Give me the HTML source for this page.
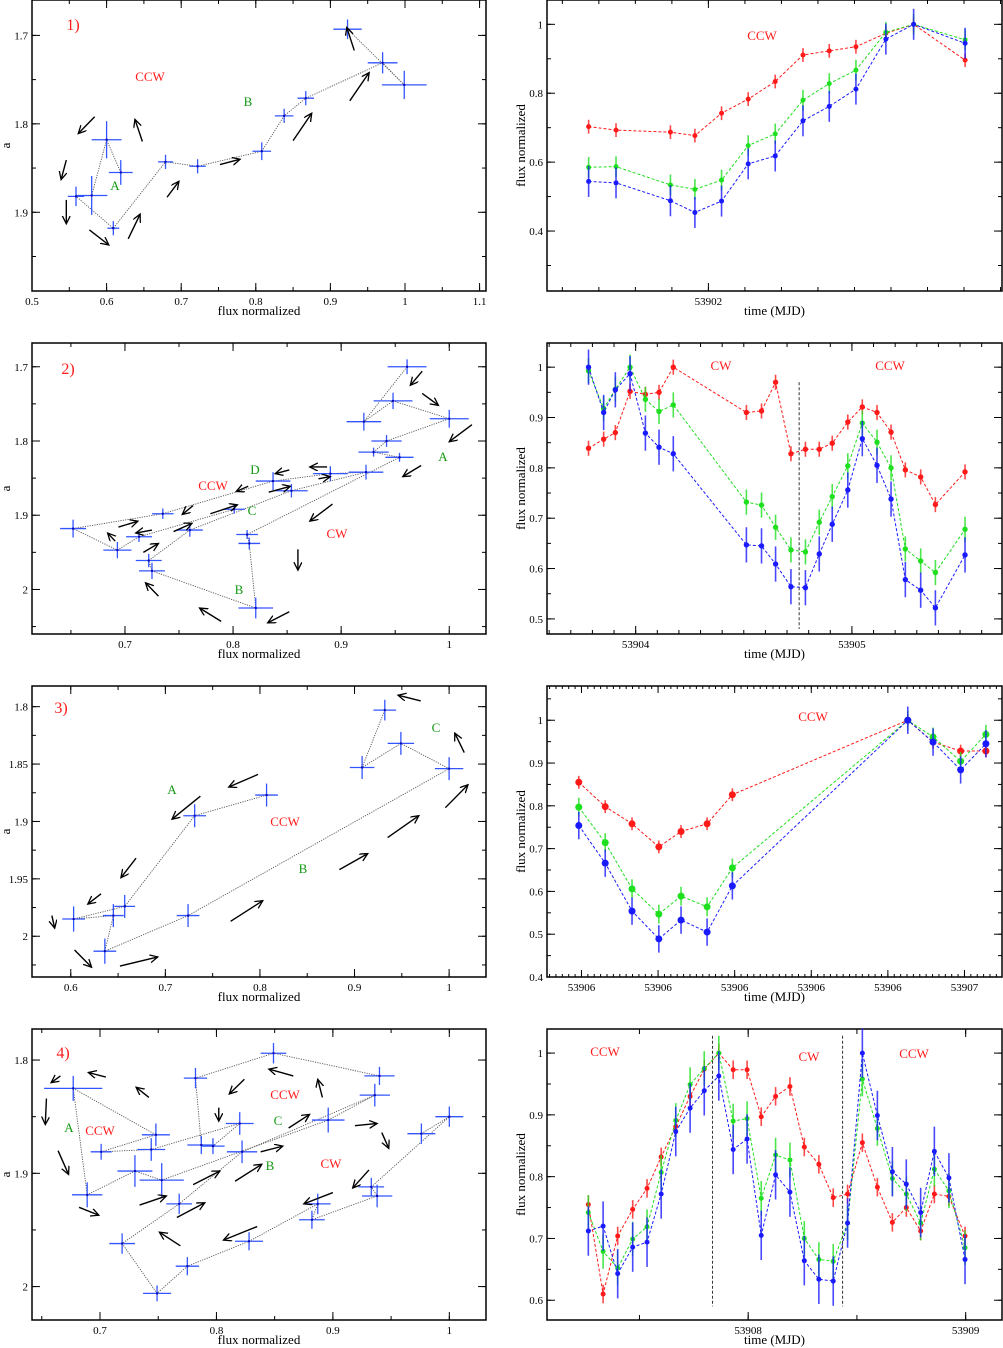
<!DOCTYPE html>
<html><head><meta charset="utf-8"><style>
body{margin:0;background:#fff}
svg{display:block;font-family:"Liberation Serif",serif}
</style></head><body>
<svg id="fig" width="1003" height="1348" viewBox="0 0 1003 1348" xmlns="http://www.w3.org/2000/svg">
<defs><marker id="ah" markerWidth="10" markerHeight="10" refX="8" refY="4" orient="auto" markerUnits="userSpaceOnUse"><polyline points="0,0 8,4 0,8" fill="none" stroke="#000" stroke-width="1.3"/></marker></defs>
</svg>
<script>
// ---------- Panel 1 ----------
const p1Flux=[0.619,0.600,0.580,0.559,0.609,0.679,0.722,0.808,0.838,0.867,0.970,0.999,0.923];
const p1A=[1.855,1.818,1.881,1.882,1.918,1.843,1.848,1.831,1.791,1.771,1.731,1.756,1.693];
const p1Xe=[0.016,0.02,0.021,0.011,0.008,0.01,0.011,0.0125,0.0125,0.011,0.02,0.03,0.019];
const p1Ye=[0.014,0.021,0.022,0.011,0.008,0.008,0.008,0.01,0.008,0.008,0.012,0.016,0.011];
const p1Arrows=[[0.584,1.792,0.562,1.811],[0.546,1.841,0.539,1.863],[0.546,1.886,0.546,1.913],[0.577,1.920,0.603,1.937],[0.629,1.930,0.645,1.902],[0.648,1.820,0.638,1.795],[0.681,1.883,0.697,1.865],[0.752,1.846,0.779,1.840],[0.850,1.819,0.875,1.788],[0.926,1.774,0.952,1.742],[0.932,1.717,0.922,1.691]];
const p1T=[-0.328,-0.253,-0.104,-0.037,0.036,0.109,0.183,0.259,0.331,0.404,0.486,0.562,0.703];
const p1Red=[0.703,0.693,0.687,0.677,0.742,0.783,0.834,0.911,0.923,0.935,0.974,1.0,0.896];
const p1Green=[0.585,0.587,0.534,0.521,0.548,0.648,0.682,0.780,0.828,0.867,0.977,1.0,0.955];
const p1Blue=[0.544,0.540,0.488,0.454,0.487,0.595,0.618,0.720,0.762,0.812,0.957,1.0,0.945];
// ---------- Panel 2 ----------
const p2Flux=[0.961,0.921,0.948,1.000,0.942,0.930,0.954,0.813,0.815,0.821,0.725,0.722,0.760,0.854,0.923,0.890,0.837,0.735,0.652,0.693,0.713,0.801];
const p2A=[1.700,1.774,1.746,1.770,1.800,1.815,1.822,1.926,1.938,2.025,1.975,1.961,1.920,1.867,1.842,1.844,1.854,1.898,1.918,1.947,1.929,1.892];
const p2Xe=[0.018,0.016,0.018,0.018,0.014,0.014,0.013,0.01,0.01,0.016,0.012,0.012,0.012,0.015,0.016,0.016,0.016,0.01,0.012,0.013,0.012,0.01];
const p2Ye=[0.01,0.012,0.011,0.012,0.008,0.006,0.006,0.006,0.008,0.014,0.011,0.009,0.009,0.009,0.01,0.01,0.012,0.007,0.012,0.011,0.007,0.006];
const p2Arrows=[[0.975,1.706,0.964,1.725],[0.975,1.736,0.990,1.752],[1.021,1.778,1.000,1.801],[0.974,1.833,0.957,1.848],[0.887,1.835,0.871,1.835],[0.852,1.839,0.839,1.844],[0.833,1.869,0.853,1.861],[0.879,1.851,0.890,1.848],[0.814,1.861,0.803,1.868],[0.763,1.887,0.753,1.899],[0.779,1.898,0.804,1.886],[0.892,1.885,0.871,1.908],[0.860,1.946,0.860,1.974],[0.694,1.916,0.712,1.908],[0.725,1.920,0.710,1.924],[0.691,1.935,0.684,1.924],[0.717,1.950,0.731,1.938],[0.745,1.922,0.762,1.911],[0.731,2.009,0.719,1.991],[0.789,2.043,0.769,2.025],[0.852,2.030,0.832,2.045]];
const p2T=[-0.218,-0.148,-0.094,-0.026,0.045,0.108,0.174,0.512,0.582,0.647,0.718,0.785,0.849,0.909,0.981,1.048,1.116,1.181,1.247,1.318,1.386,1.523];
const p2Red=[0.839,0.857,0.870,0.952,0.946,0.950,1.0,0.910,0.913,0.970,0.828,0.837,0.837,0.849,0.891,0.921,0.910,0.871,0.796,0.782,0.727,0.792];
const p2Green=[0.993,0.918,0.956,1.0,0.936,0.912,0.925,0.732,0.726,0.682,0.637,0.633,0.692,0.743,0.804,0.889,0.851,0.800,0.639,0.615,0.592,0.678];
const p2Blue=[1.0,0.910,0.955,0.987,0.869,0.841,0.828,0.647,0.645,0.609,0.564,0.562,0.629,0.688,0.756,0.858,0.805,0.738,0.578,0.557,0.522,0.627];
const p2VLines=[53904.756];
// ---------- Panel 3 ----------
const p3Flux=[0.807,0.731,0.657,0.603,0.645,0.636,0.724,1.000,0.949,0.908,0.932];
const p3A=[1.877,1.895,1.974,1.985,1.982,2.013,1.982,1.854,1.832,1.853,1.803];
const p3Xe=[0.012,0.012,0.011,0.012,0.011,0.012,0.012,0.015,0.014,0.013,0.012];
const p3Ye=[0.01,0.01,0.01,0.011,0.01,0.011,0.01,0.01,0.01,0.01,0.009];
const p3Arrows=[[0.970,1.795,0.946,1.790],[1.016,1.840,1.006,1.823],[0.996,1.888,1.020,1.868],[0.935,1.914,0.968,1.895],[0.884,1.942,0.914,1.928],[0.769,1.987,0.803,1.969],[0.652,2.026,0.692,2.018],[0.604,2.012,0.622,2.027],[0.580,1.982,0.583,1.993],[0.632,1.963,0.618,1.972],[0.669,1.932,0.653,1.949],[0.737,1.878,0.707,1.898],[0.798,1.859,0.767,1.870]];
const p3T=[-0.0035,0.031,0.066,0.101,0.130,0.164,0.197,0.426,0.459,0.495,0.528];
const p3Red=[0.855,0.798,0.758,0.704,0.740,0.758,0.826,1.0,0.949,0.928,0.928];
const p3Green=[0.797,0.714,0.606,0.547,0.589,0.564,0.655,1.0,0.961,0.904,0.967];
const p3Blue=[0.754,0.666,0.554,0.489,0.533,0.505,0.613,1.0,0.949,0.884,0.945];
const p3XLabels=["53906","53906","53906","53906","53906","53907"];
// ---------- Panel 4 ----------
const p4Flux=[0.940,0.849,0.782,0.787,0.797,0.820,0.744,0.701,0.748,0.677,0.689,0.730,0.753,0.896,0.936,0.822,0.768,0.719,0.749,0.775,0.828,0.887,0.882,0.938,0.933,1.000,0.976];
const p4A=[1.814,1.794,1.816,1.875,1.876,1.856,1.879,1.881,1.866,1.825,1.919,1.898,1.906,1.853,1.831,1.881,1.927,1.962,2.006,1.982,1.960,1.927,1.941,1.920,1.912,1.850,1.865];
const p4Xe=[0.013,0.011,0.01,0.012,0.01,0.012,0.012,0.009,0.012,0.025,0.013,0.015,0.019,0.014,0.013,0.013,0.011,0.011,0.012,0.01,0.012,0.011,0.011,0.013,0.011,0.012,0.012];
const p4Ye=[0.008,0.009,0.009,0.008,0.007,0.01,0.01,0.007,0.01,0.011,0.011,0.014,0.015,0.011,0.01,0.01,0.009,0.009,0.007,0.008,0.008,0.009,0.008,0.01,0.008,0.009,0.009];
const p4Arrows=[[0.666,1.814,0.658,1.820],[0.705,1.815,0.690,1.811],[0.742,1.833,0.731,1.824],[0.654,1.834,0.653,1.857],[0.664,1.880,0.673,1.901],[0.682,1.930,0.699,1.937],[0.734,1.928,0.757,1.920],[0.766,1.939,0.790,1.926],[0.769,1.964,0.751,1.952],[0.780,1.910,0.803,1.898],[0.816,1.907,0.839,1.892],[0.838,1.881,0.857,1.876],[0.824,1.817,0.811,1.830],[0.802,1.842,0.802,1.854],[0.866,1.814,0.845,1.808],[0.891,1.833,0.887,1.817],[0.862,1.860,0.880,1.848],[0.919,1.858,0.938,1.856],[0.942,1.864,0.948,1.878],[0.931,1.897,0.917,1.913],[0.900,1.917,0.875,1.927],[0.835,1.947,0.806,1.959]];
const p4T=[-0.735,-0.667,-0.600,-0.531,-0.465,-0.400,-0.333,-0.267,-0.202,-0.135,-0.069,-0.005,0.060,0.126,0.192,0.258,0.325,0.391,0.457,0.525,0.594,0.663,0.727,0.793,0.856,0.923,0.997];
const p4Red=[0.755,0.610,0.704,0.747,0.781,0.832,0.881,0.930,0.974,1.0,0.973,0.973,0.897,0.930,0.946,0.848,0.820,0.766,0.772,0.855,0.783,0.726,0.750,0.712,0.772,0.768,0.704];
const p4Green=[0.742,0.679,0.652,0.699,0.719,0.807,0.891,0.949,0.975,1.0,0.890,0.894,0.765,0.835,0.827,0.700,0.666,0.663,0.725,0.958,0.878,0.797,0.772,0.725,0.812,0.777,0.685];
const p4Blue=[0.712,0.720,0.643,0.686,0.694,0.772,0.873,0.911,0.939,0.963,0.844,0.861,0.705,0.803,0.775,0.664,0.634,0.631,0.725,1.0,0.899,0.808,0.788,0.742,0.841,0.798,0.666];
const p4VLines=[53907.836,53908.434];

const NS="http://www.w3.org/2000/svg";
const svg=document.getElementById('fig');
function mk(tag,attrs,parent){const e=document.createElementNS(NS,tag);for(const k in attrs)e.setAttribute(k,attrs[k]);(parent||svg).appendChild(e);return e;}
function txt(s,x,y,size,color,anchor,parent,rot){const t=mk('text',{x:x,y:y,'font-size':size,fill:color||'#000','text-anchor':anchor||'middle'},parent);if(rot)t.setAttribute('transform','rotate(-90 '+x+' '+y+')');t.textContent=s;return t;}
function fmt(v){return String(+v.toFixed(3));}

function makePanel(name,box,xd,yd,yInv){
  const g=mk('g',{});
  
  
  const sx=v=>box.l+(v-xd[0])/(xd[1]-xd[0])*(box.r-box.l);
  const sy=yInv?(v=>box.t+(v-yd[0])/(yd[1]-yd[0])*(box.b-box.t)):(v=>box.b-(v-yd[0])/(yd[1]-yd[0])*(box.b-box.t));
  const fr=mk('rect',{x:box.l,y:box.t,width:box.r-box.l,height:box.b-box.t,fill:'none',stroke:'#000','stroke-width':1.5},g);
  
  
  return {g,sx,sy,box};
}
function ticks(P,axis,dom,step,len,labelFn,size){
  const lo=Math.min(dom[0],dom[1]),hi=Math.max(dom[0],dom[1]);
  const i0=Math.ceil(lo/step-1e-6),i1=Math.floor(hi/step+1e-6);
  const tg=mk('g',{stroke:'#000','stroke-width':1},P.g);
  
  
  let k=0;
  for(let i=i0;i<=i1;i++){
    const v=i*step;
    if(axis==='x'){const x=P.sx(v);mk('line',{x1:x,x2:x,y1:P.box.b,y2:P.box.b-len},tg);mk('line',{x1:x,x2:x,y1:P.box.t,y2:P.box.t+len},tg);
      if(labelFn){const s=labelFn(v,k);if(s!==null){const t=txt(s,x,P.box.b+14,size||12,'#000','middle',P.g);}}}
    else{const y=P.sy(v);mk('line',{y1:y,y2:y,x1:P.box.l,x2:P.box.l+len},tg);mk('line',{y1:y,y2:y,x1:P.box.r,x2:P.box.r-len},tg);
      if(labelFn){const s=labelFn(v,k);if(s!==null){const t=txt(s,P.box.l-4,y+4,size||12,'#000','end',P.g);}}}
    k++;
  }
}
function titles(P,xt,yt){
  const b=P.box;
  const a=txt(xt,(b.l+b.r)/2,b.b+24,13,'#000','middle',P.g);
  const c=txt(yt,b.l-22,(b.t+b.b)/2,13,'#000','middle',P.g,true);
}
function label(P,s,x,y,color,size){const t=txt(s,x,y,size||13,color,'middle',P.g);}

function loopPanel(P,fx,fa,xe,ye,arrows){
  const pts=fx.map((v,i)=>P.sx(v)+','+P.sy(fa[i])).join(' ');
  const pl=mk('polyline',{points:pts,fill:'none',stroke:'#555','stroke-width':0.9,'stroke-dasharray':'1.2,1.2'},P.g);
  
  
  fx.forEach((v,i)=>{
    const x=P.sx(v),y=P.sy(fa[i]);
    const c=mk('g',{stroke:'#3355ff','stroke-width':1.3},P.g);
    
    
    mk('line',{x1:P.sx(v-xe[i]),x2:P.sx(v+xe[i]),y1:y,y2:y},c);
    mk('line',{x1:x,x2:x,y1:P.sy(fa[i]-ye[i]),y2:P.sy(fa[i]+ye[i])},c);
    mk('rect',{x:x-1,y:y-1,width:2,height:2,fill:'#0000aa',stroke:'none'},c);
  });
  arrows.forEach(a=>{
    const l=mk('line',{x1:P.sx(a[0]),y1:P.sy(a[1]),x2:P.sx(a[2]),y2:P.sy(a[3]),stroke:'#000','stroke-width':1.4,'marker-end':'url(#ah)'},P.g);
    
    
  });
}
function lcPanel(P,t,series,r,vlines,vy){
  series.forEach(s=>{
    const sg=mk('g',{},P.g);
    
    
    mk('polyline',{points:t.map((v,i)=>P.sx(v)+','+P.sy(s.v[i])).join(' '),fill:'none',stroke:s.c,'stroke-width':1,'stroke-dasharray':'3,2'},sg);
    t.forEach((v,i)=>{
      const x=P.sx(v);
      const e=mk('line',{x1:x,x2:x,y1:P.sy(s.v[i]-s.e),y2:P.sy(s.v[i]+s.e),stroke:s.c,'stroke-width':1.6,'stroke-opacity':0.8},sg);
      
      
      const c=mk('circle',{cx:x,cy:P.sy(s.v[i]),r:r,fill:s.c},sg);
      
      
    });
  });
  (vlines||[]).forEach(v=>{
    const l=mk('line',{x1:P.sx(v),x2:P.sx(v),y1:P.sy(vy[0]),y2:P.sy(vy[1]),stroke:'#333','stroke-width':1,'stroke-dasharray':'3,2'},P.g);
    
    
  });
}
const RED='#ff1a1a',GRN='#1ee01e',BLU='#1a1aff';

// Panel 1
let P=makePanel('loop-panel-1',{l:32,t:0,r:486,b:291},[0.5,1.1086],[1.66,1.989],true);
ticks(P,'x',[0.5,1.1086],0.05,4,null);ticks(P,'x',[0.5,1.1086],0.1,8,fmt,11);
ticks(P,'y',[1.66,1.989],0.05,4,null);ticks(P,'y',[1.66,1.989],0.1,8,fmt,11);
titles(P,'flux normalized','a');
loopPanel(P,p1Flux,p1A,p1Xe,p1Ye,p1Arrows);
label(P,'1)',73,30,RED,16);label(P,'CCW',150,81,RED);label(P,'B',248,106,'#119911');label(P,'A',115,190,'#119911');

P=makePanel('lightcurve-panel-1',{l:547,t:0,r:1002,b:291},[53902-0.442,53902.804],[0.226,1.0706],false);
ticks(P,'x',[53901.558,53902.804],0.1,4,null);ticks(P,'x',[53901.558,53902.804],1,8,v=>String(Math.round(v)),11);
ticks(P,'y',[0.226,1.0706],0.1,4,null);ticks(P,'y',[0.226,1.0706],0.2,8,fmt,11);
titles(P,'time (MJD)','flux normalized');
lcPanel(P,p1T.map(v=>53902+v),[{name:'red',c:RED,v:p1Red,e:0.02},{name:'green',c:GRN,v:p1Green,e:0.03},{name:'blue',c:BLU,v:p1Blue,e:0.045}],2.5);
label(P,'CCW',762,40,RED);

// Panel 2
P=makePanel('loop-panel-2',{l:32,t:343,r:486,b:634},[0.614,1.034],[1.668,2.06],true);
ticks(P,'x',[0.614,1.034],0.05,4,null);ticks(P,'x',[0.614,1.034],0.1,8,fmt,11);
ticks(P,'y',[1.668,2.06],0.05,4,null);ticks(P,'y',[1.668,2.06],0.1,8,fmt,11);
titles(P,'flux  normalized','a');
loopPanel(P,p2Flux,p2A,p2Xe,p2Ye,p2Arrows);
label(P,'2)',68,374,RED,16);label(P,'D',255,474,'#119911');label(P,'CCW',213,490,RED);label(P,'C',252,515,'#119911');
label(P,'CW',337,538,RED);label(P,'A',443,461,'#119911');label(P,'B',239,594,'#119911');

P=makePanel('lightcurve-panel-2',{l:547,t:343,r:1002,b:634},[53903.59,53905.694],[0.47,1.048],false);
ticks(P,'x',[53903.59,53905.694],0.1,4,null);ticks(P,'x',[53903.59,53905.694],1,8,v=>String(Math.round(v)),11);
ticks(P,'y',[0.47,1.048],0.05,4,null);ticks(P,'y',[0.47,1.048],0.1,8,fmt,11);
titles(P,'time (MJD)','flux normalized');
lcPanel(P,p2T.map(v=>53904+v),[{name:'red',c:RED,v:p2Red,e:0.015},{name:'green',c:GRN,v:p2Green,e:0.025},{name:'blue',c:BLU,v:p2Blue,e:0.035}],2.7,p2VLines,[0.97,0.48]);
label(P,'CW',721,370,RED);label(P,'CCW',890,370,RED);

// Panel 3
P=makePanel('loop-panel-3',{l:32,t:686,r:486,b:977},[0.559,1.039],[1.782,2.0355],true);
ticks(P,'x',[0.559,1.039],0.05,4,null);ticks(P,'x',[0.559,1.039],0.1,8,fmt,11);
ticks(P,'y',[1.782,2.0355],0.025,4,null);ticks(P,'y',[1.782,2.0355],0.05,8,fmt,11);
titles(P,'flux normalized','a');
loopPanel(P,p3Flux,p3A,p3Xe,p3Ye,p3Arrows);
label(P,'3)',61,713,RED,16);label(P,'A',172,794,'#119911');label(P,'CCW',285,826,RED);label(P,'B',303,873,'#119911');label(P,'C',436,732,'#119911');

P=makePanel('lightcurve-panel-3',{l:547,t:686,r:1002,b:977},[53905.955,53906.549],[0.4,1.08],false);
ticks(P,'x',[53905.955,53906.549],0.1/12,3,null);ticks(P,'x',[53905.955,53906.549],0.1,7,(v,k)=>p3XLabels[k],11);
ticks(P,'y',[0.4,1.08],0.05,4,null);ticks(P,'y',[0.4,1.08],0.1,8,fmt,11);
titles(P,'time (MJD)','flux normalized');
lcPanel(P,p3T.map(v=>53906+v),[{name:'red',c:RED,v:p3Red,e:0.015},{name:'green',c:GRN,v:p3Green,e:0.022},{name:'blue',c:BLU,v:p3Blue,e:0.032}],3.5);
label(P,'CCW',813,721,RED);

// Panel 4
P=makePanel('loop-panel-4',{l:32,t:1029,r:486,b:1320},[0.6416,1.0315],[1.7726,2.0295],true);
ticks(P,'x',[0.6416,1.0315],0.05,4,null);ticks(P,'x',[0.6416,1.0315],0.1,8,fmt,11);
ticks(P,'y',[1.7726,2.0295],0.05,4,null);ticks(P,'y',[1.7726,2.0295],0.1,8,fmt,11);
titles(P,'flux normalized','a');
loopPanel(P,p4Flux,p4A,p4Xe,p4Ye,p4Arrows);
label(P,'4)',63,1058,RED,16);label(P,'A',69,1132,'#119911');label(P,'CCW',100,1135,RED);label(P,'CCW',285,1099,RED);
label(P,'C',278,1125,'#119911');label(P,'B',270,1170,'#119911');label(P,'CW',331,1168,RED);

P=makePanel('lightcurve-panel-4',{l:547,t:1029,r:1002,b:1320},[53907.075,53909.167],[0.568,1.039],false);
ticks(P,'x',[53907.075,53909.167],0.5,5,null);ticks(P,'x',[53907.075,53909.167],1,8,v=>String(Math.round(v)),11);
ticks(P,'y',[0.568,1.039],0.05,4,null);ticks(P,'y',[0.568,1.039],0.1,8,fmt,11);
titles(P,'time (MJD)','flux normalized');
lcPanel(P,p4T.map(v=>53908+v),[{name:'red',c:RED,v:p4Red,e:0.015},{name:'green',c:GRN,v:p4Green,e:0.028},{name:'blue',c:BLU,v:p4Blue,e:0.04}],2.5,p4VLines,[1.028,0.59]);
label(P,'CCW',605,1056,RED);label(P,'CW',809,1061,RED);label(P,'CCW',914,1058,RED);
</script>
</body></html>
